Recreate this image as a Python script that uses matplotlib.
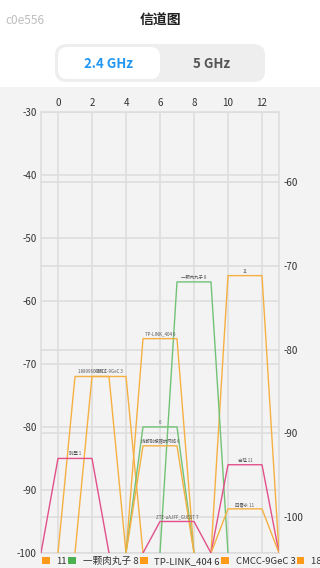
import matplotlib
matplotlib.use("Agg")
import matplotlib.pyplot as plt
from matplotlib.patches import FancyBboxPatch, Patch, Rectangle

plt.rcParams['font.family'] = ['Noto Sans CJK SC', 'DejaVu Sans']
plt.rcParams['axes.unicode_minus'] = False

# ---- data ----
names = ["11", "一颗肉丸子 8", "TP-LINK_404 6", "CMCC-9GeC 3", "18899604E6 2",
         " 6", "撬都别想蹭的网络 6", "别墅 1", "自延 11", "四零永 11", "ZTE-uAJFF_GUEST 7"]
channels = [11, 8, 6, 3, 2, 6, 6, 1, 11, 11, 7]
levels = [-56, -57, -66, -72, -72, -80, -83, -85, -86, -93, -95]
color_keys = ["o", "g", "o", "o", "o", "g", "o", "p", "p", "o", "p"]
x_ticks = [0, 2, 4, 6, 8, 10, 12]
left_ticks = [-30, -40, -50, -60, -70, -80, -90, -100]
right_ticks = [-60, -70, -80, -90, -100]

line_colors = {"o": "#F6B042", "g": "#72C276", "p": "#E2508A"}
legend_colors = {"o": "#FF9A1A", "g": "#4CAF50", "p": "#E2508A"}

W, H = 320, 568
fig = plt.figure(figsize=(W / 100, H / 100), dpi=100)
fig.patch.set_facecolor("white")

def fx(px):
    return px / W

def fy(py):
    return 1 - py / H

# chart panel background
fig.patches.append(Rectangle((0, 0), 1, fy(87), transform=fig.transFigure,
                             facecolor="#F3F3F3", edgecolor="none", zorder=-5))

# header
fig.text(fx(5), fy(21), "c0e556", fontsize=8.5, color="#BDBDBD", va="center", ha="left")
fig.text(fx(160), fy(21), "信道图", fontsize=10, color="#222222", va="center", ha="center",
         fontweight="bold")
fig.patches.append(FancyBboxPatch((fx(55), fy(82)), fx(210), fy(44) - fy(82),
                                  boxstyle="round,pad=0,rounding_size=0.035",
                                  transform=fig.transFigure, facecolor="#EEEEEE",
                                  edgecolor="none", mutation_aspect=0.56, zorder=1))
fig.patches.append(FancyBboxPatch((fx(58), fy(79)), fx(102), fy(47) - fy(79),
                                  boxstyle="round,pad=0,rounding_size=0.03",
                                  transform=fig.transFigure, facecolor="white",
                                  edgecolor="none", mutation_aspect=0.56, zorder=2))
fig.text(fx(108), fy(64), "2.4 GHz", fontsize=9.5, color="#2196F3", va="center",
         ha="center", fontweight="bold", zorder=3)
fig.text(fx(212), fy(64), "5 GHz", fontsize=9.5, color="#555555", va="center",
         ha="center", fontweight="bold", zorder=3)

# axes
L, R, T, B = 41, 279, 111.7, 553
ax = fig.add_axes([fx(L), fy(B), fx(R - L), (B - T) / H])
ax.set_facecolor("#F3F3F3")
ax.set_xlim(-1, 13)
ax.set_ylim(-100, -30)
ax.xaxis.tick_top()
ax.set_xticks(x_ticks)
ax.set_yticks(left_ticks)
ax.tick_params(axis="both", length=0, labelsize=7, labelcolor="#333333")
ax.tick_params(axis="x", pad=3)
ax.tick_params(axis="y", pad=3)
ax.grid(True, color="#DCDCDC", linewidth=1.1)
ax.set_axisbelow(True)
for s in ax.spines.values():
    s.set_color("#DCDCDC")
    s.set_linewidth(1.1)

ax2 = ax.twinx()
ax2.set_ylim(-104.3, -51.6)
ax2.set_yticks(right_ticks)
ax2.tick_params(axis="y", length=0, labelsize=7, labelcolor="#333333", pad=3)
ax2.grid(True, axis="y", color="#DCDCDC", linewidth=1.1)
ax2.set_axisbelow(True)
for s in ax2.spines.values():
    s.set_visible(False)
ax2.set_zorder(1)
ax.set_zorder(2)
ax.patch.set_visible(False)
ax2.set_facecolor("#F3F3F3")

for name, ch, lv, ck in zip(names, channels, levels, color_keys):
    ax.plot([ch - 2, ch - 1, ch + 1, ch + 2], [-100, lv, lv, -100],
            color=line_colors[ck], linewidth=1.0, zorder=3)
    ax.annotate(name, (ch, lv), xytext=(0, 1.5), textcoords="offset points",
                ha="center", va="bottom", fontsize=3.2, color="#555555", zorder=4)

handles = [Patch(facecolor=legend_colors[ck], edgecolor="none") for ck in color_keys]
fig.legend(handles, names, loc="center left", bbox_to_anchor=(fx(42), fy(561)),
           ncol=len(names), frameon=False, fontsize=6.9, handlelength=0.8,
           handleheight=0.8, handletextpad=0.7, columnspacing=0.15,
           borderaxespad=0, borderpad=0, labelcolor="#333333")

fig.savefig("out.png", dpi=100, facecolor=fig.get_facecolor())
